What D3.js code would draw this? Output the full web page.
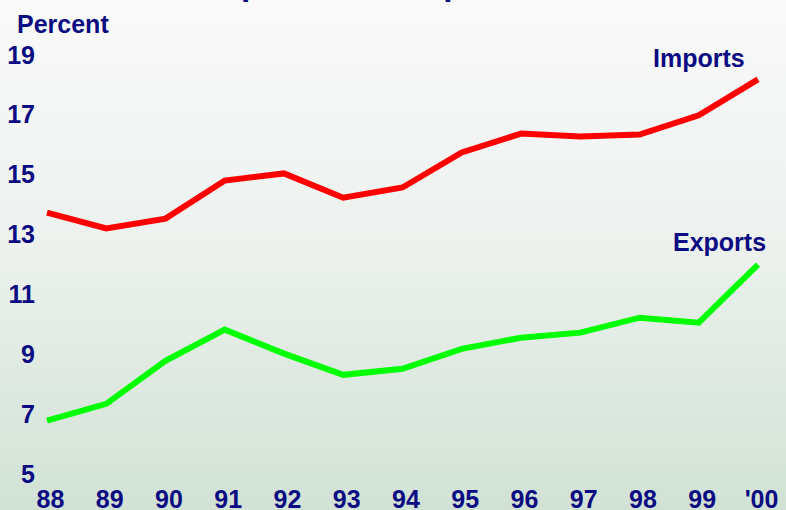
<!DOCTYPE html>
<html>
<head>
<meta charset="utf-8">
<script src="https://cdn.jsdelivr.net/npm/d3@7"></script>
<style>
  html, body { margin: 0; padding: 0; overflow: hidden; }
  svg { display: block; }
</style>
</head>
<body>
<script>
const years = ["88","89","90","91","92","93","94","95","96","97","98","99","'00"];
const imports = [13.70, 13.17, 13.50, 14.77, 15.01, 14.20, 14.54, 15.71, 16.34, 16.24, 16.31, 16.95, 18.15];
const exports = [6.75, 7.31, 8.75, 9.79, 8.99, 8.28, 8.48, 9.15, 9.52, 9.69, 10.19, 10.02, 11.96];
const yTicks = [5, 7, 9, 11, 13, 15, 17, 19];
const seriesNames = ["Imports", "Exports"];
const titleText = "Imports and Exports";

const W = 786, H = 510;
const navy = "#0b0b82";
const font = "'Liberation Sans', Arial, Helvetica, sans-serif";

const svg = d3.select("body").append("svg").attr("width", W).attr("height", H);

const defs = svg.append("defs");
const grad = defs.append("linearGradient").attr("id", "bg")
  .attr("x1", 0).attr("y1", 0).attr("x2", 0).attr("y2", 1);
grad.append("stop").attr("offset", "0%").attr("stop-color", "#f9faf9");
grad.append("stop").attr("offset", "45%").attr("stop-color", "#eef2ef");
grad.append("stop").attr("offset", "100%").attr("stop-color", "#d1e2d5");
svg.append("rect").attr("width", W).attr("height", H).attr("fill", "url(#bg)");

const x = d3.scalePoint().domain(years).range([47, 758]);
const y = d3.scaleLinear().domain([5, 19]).range([473, 54]);

// title, mostly above the visible area (only descenders show, as in the reference)
svg.append("text").attr("x", 202).attr("y", -5)
  .attr("font-family", font).attr("font-weight", "bold").attr("font-size", 33.4)
  .attr("fill", navy).text(titleText);

// Y axis
const yAxis = d3.axisLeft(y).tickValues(yTicks).tickSize(0).tickPadding(0).tickFormat(d3.format("d"));
const gy = svg.append("g").attr("transform", "translate(35,0)").call(yAxis);
gy.select(".domain").remove();
gy.selectAll("text").attr("font-family", font).attr("font-weight", "bold")
  .attr("font-size", 25).attr("fill", navy).attr("dy", "0.36em").attr("text-anchor", "end");

// X axis
const xAxis = d3.axisBottom(x).tickSize(0).tickPadding(0);
const gx = svg.append("g").attr("transform", "translate(3,490)").call(xAxis);
gx.select(".domain").remove();
gx.selectAll("text").attr("font-family", font).attr("font-weight", "bold")
  .attr("font-size", 25).attr("fill", navy).attr("dy", "0.72em");

svg.append("text").attr("x", 17).attr("y", 33)
  .attr("font-family", font).attr("font-weight", "bold").attr("font-size", 25)
  .attr("fill", navy).text("Percent");

const line = d3.line().x((d, i) => x(years[i])).y(d => y(d));
svg.append("path").datum(exports).attr("d", line).attr("fill", "none")
  .attr("stroke", "#00ff00").attr("stroke-width", 6).attr("stroke-linejoin", "miter");
svg.append("path").datum(imports).attr("d", line).attr("fill", "none")
  .attr("stroke", "#ff0000").attr("stroke-width", 6).attr("stroke-linejoin", "miter");

svg.append("text").attr("x", 653).attr("y", 67)
  .attr("font-family", font).attr("font-weight", "bold").attr("font-size", 25)
  .attr("fill", navy).text(seriesNames[0]);
svg.append("text").attr("x", 673).attr("y", 251)
  .attr("font-family", font).attr("font-weight", "bold").attr("font-size", 25)
  .attr("fill", navy).text(seriesNames[1]);
</script>
</body>
</html>
